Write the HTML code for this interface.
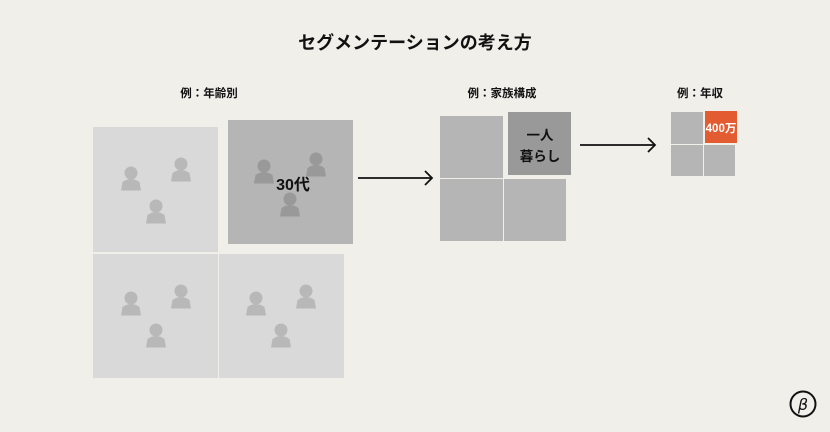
<!DOCTYPE html>
<html><head><meta charset="utf-8"><style>
html,body{margin:0;padding:0;background:#f1efea;}
body{width:830px;height:432px;overflow:hidden;position:relative;font-family:"Liberation Sans","Noto Sans CJK JP",sans-serif;}
</style></head><body>
<svg width="830" height="432" viewBox="0 0 830 432" xmlns="http://www.w3.org/2000/svg" style="position:absolute;left:0;top:0">
<defs>
<g id="p"><circle cx="0" cy="0" r="6.5"/><path d="M-10,17.5 L-8.5,9 Q0,3 8.5,9 L10,17.5 Z"/></g>
</defs>
<rect width="830" height="432" fill="#f1efea"/>
<g font-family="Liberation Sans, Noto Sans CJK JP, sans-serif" font-weight="bold" fill="#111" text-anchor="middle">
<text x="415" y="49" font-size="18">セグメンテーションの考え方</text>
<text x="209" y="97" font-size="11.5">例：年齢別</text>
<text x="502" y="97" font-size="11.5">例：家族構成</text>
<text x="700" y="97" font-size="11.5">例：年収</text>
</g>
<rect x="93" y="127" width="125" height="125" fill="#d9d9d9"/>
<rect x="228" y="120" width="125" height="124" fill="#b5b5b5"/>
<rect x="93" y="254" width="125" height="124" fill="#d9d9d9"/>
<rect x="219" y="254" width="125" height="124" fill="#d9d9d9"/>
<g fill="#b8b8b8">
<use href="#p" x="131" y="173"/><use href="#p" x="181" y="164"/><use href="#p" x="156" y="206"/>
<use href="#p" x="131" y="298"/><use href="#p" x="181" y="291"/><use href="#p" x="156" y="330"/>
<use href="#p" x="256" y="298"/><use href="#p" x="306" y="291"/><use href="#p" x="281" y="330"/>
</g>
<g fill="#999">
<use href="#p" x="264" y="166"/><use href="#p" x="316" y="159"/><use href="#p" x="290" y="199"/>
</g>
<text x="293" y="190" font-size="16" font-weight="bold" text-anchor="middle" fill="#111" font-family="Liberation Sans, Noto Sans CJK JP, sans-serif">30代</text>
<g stroke="#111" stroke-width="1.8" fill="none">
<line x1="358" y1="178" x2="432" y2="178"/><polyline points="425,171 432,178 425,185"/>
<line x1="580" y1="145" x2="655" y2="145"/><polyline points="648,138 655,145 648,152"/>
</g>
<rect x="440" y="116" width="63" height="62" fill="#b5b5b5"/>
<rect x="508" y="112" width="63" height="63" fill="#999"/>
<rect x="440" y="179" width="63" height="62" fill="#b5b5b5"/>
<rect x="504" y="179" width="62" height="62" fill="#b5b5b5"/>
<g font-family="Liberation Sans, Noto Sans CJK JP, sans-serif" font-weight="bold" font-size="13.5" fill="#111" text-anchor="middle">
<text x="540" y="140">一人</text><text x="540" y="161">暮らし</text>
</g>
<rect x="671" y="112" width="32" height="32" fill="#b5b5b5"/>
<rect x="705" y="111" width="32" height="32" fill="#e35b30"/>
<rect x="671" y="145" width="32" height="31" fill="#b5b5b5"/>
<rect x="704" y="145" width="31" height="31" fill="#b5b5b5"/>
<text x="721" y="132" font-size="11.5" font-weight="bold" text-anchor="middle" fill="#fff" font-family="Liberation Sans, Noto Sans CJK JP, sans-serif">400万</text>
<circle cx="803" cy="404" r="12.5" fill="none" stroke="#111" stroke-width="2"/>
<text x="803" y="410" font-size="16" text-anchor="middle" fill="#111" font-family="DejaVu Sans, sans-serif" font-style="italic">β</text>
</svg>
</body></html>
